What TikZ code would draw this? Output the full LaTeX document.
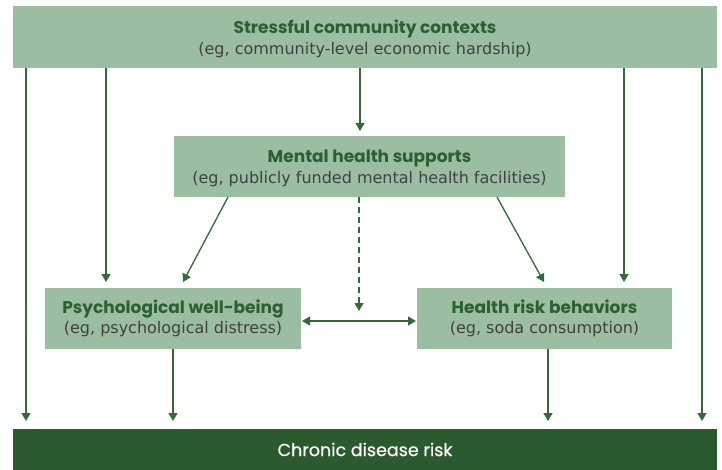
\documentclass[tikz,border=0pt]{standalone}
\usepackage{fontspec}
\setmainfont{Poppins}
\newfontfamily\subf{DejaVu Sans}
\newfontfamily\medf[FakeBold=0.6]{Poppins}
\usetikzlibrary{arrows.meta}
\definecolor{boxg}{HTML}{9BBDA2}
\definecolor{darkg}{HTML}{2B5A2F}
\definecolor{titg}{HTML}{2C5F32}
\definecolor{subg}{HTML}{414141}
\definecolor{lineg}{HTML}{35683B}
\newcommand{\ttl}[1]{{\fontsize{17}{21}\selectfont\bfseries\color{titg}#1}}
\newcommand{\subt}[1]{{\fontsize{16}{21}\selectfont\subf\color{subg}#1}}
\newcommand{\upstrut}{\rule{0pt}{17pt}}
\begin{document}
\begin{tikzpicture}[x=1pt,y=-1pt,
  box/.style={fill=boxg, draw=none, inner sep=0pt, align=center},
  arr/.style={draw=lineg, line width=1.3pt, -{Triangle[width=9pt,length=8pt]}},
  dbl/.style={draw=lineg, line width=1.3pt, {Triangle[width=9pt,length=8pt]}-{Triangle[width=9pt,length=8pt]}}]
\useasboundingbox (0,0) rectangle (722,470);
\fill[white] (0,0) rectangle (722,470);

\node[box, font=\fontsize{16}{21}\selectfont, minimum width=704pt, minimum height=62pt] (top) at (365,37)
  {\upstrut\ttl{Stressful community contexts}\\\subt{(eg, community-level economic hardship)}};
\node[box, font=\fontsize{16}{21}\selectfont, minimum width=391pt, minimum height=61pt] (mental) at (369.5,166.5)
  {\upstrut\ttl{Mental health supports}\\\subt{(eg, publicly funded mental health facilities)}};
\node[box, font=\fontsize{16}{19.5}\selectfont, minimum width=256pt, minimum height=61pt] (psych) at (173,318.5)
  {\ttl{Psychological well-being}\\\subt{(eg, psychological distress)}};
\node[box, font=\fontsize{16}{19.5}\selectfont, minimum width=255pt, minimum height=61pt] (health) at (544.5,318.5)
  {\ttl{Health risk behaviors}\\\subt{(eg, soda consumption)}};
\node[fill=darkg, inner sep=0pt, minimum width=704pt, minimum height=41pt] (bottom) at (365,449.5)
  {\fontsize{17.5}{20}\selectfont\medf\color{white}Chronic disease risk};

% from top box
\coordinate (t1) at (26,68);   \coordinate (b1) at (26,421);
\coordinate (t2) at (106,68);  \coordinate (b2) at (106,282);
\coordinate (t3) at (360,68);  \coordinate (b3) at (360,131);
\coordinate (t4) at (624,68);  \coordinate (b4) at (624,282);
\coordinate (t5) at (702,68);  \coordinate (b5) at (702,421);
\draw[arr] (t1) -- (b1);
\draw[arr] (t2) -- (b2);
\draw[arr] (t3) -- (b3);
\draw[arr] (t4) -- (b4);
\draw[arr] (t5) -- (b5);

% from mental box
\coordinate (m1) at (228,197); \coordinate (p1) at (183,282);
\coordinate (m2) at (497,197); \coordinate (h1) at (544,282);
\coordinate (m3) at (359,197); \coordinate (d1) at (359,311);
\draw[arr] (m1) -- (p1);
\draw[arr] (m2) -- (h1);
\draw[arr, dash pattern=on 6pt off 4pt] (m3) -- (d1);

% between psych and health
\coordinate (pr) at (302,321); \coordinate (hl) at (416,321);
\draw[dbl] (pr) -- (hl);

% to bottom
\coordinate (p2) at (173,349); \coordinate (b6) at (173,421);
\coordinate (h2) at (548,349); \coordinate (b7) at (548,421);
\draw[arr] (p2) -- (b6);
\draw[arr] (h2) -- (b7);
\end{tikzpicture}
\end{document}
